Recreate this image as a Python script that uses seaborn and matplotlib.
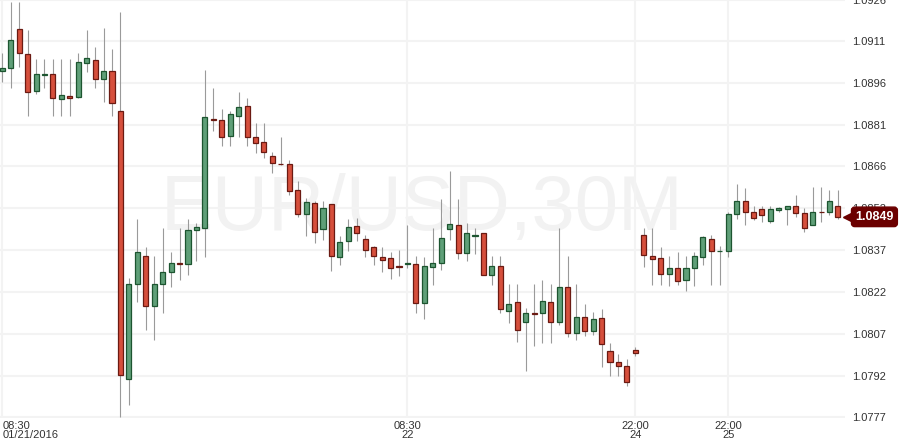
import numpy as np
import pandas as pd
import matplotlib
matplotlib.use('Agg')
import matplotlib.pyplot as plt
import seaborn as sns

# OHLC 数据（从图上读出，EUR/USD 30 分钟）
opens = [1.09007, 1.09018, 1.09157, 1.09068, 1.08936, 1.08993, 1.08996, 1.08907, 1.08918, 1.08914,
         1.09035, 1.09046, 1.08978, 1.09007, 1.08864, 1.07909, 1.08248, 1.08348, 1.08169, 1.08248,
         1.08291, 1.08323, 1.08319, 1.08440, 1.08447, 1.08836, 1.08832, 1.08775, 1.08847, 1.08882,
         1.08772, 1.08754, 1.08704, 1.08677, 1.08676, 1.08583, 1.08497, 1.08537, 1.08444, 1.08533,
         1.08344, 1.08401, 1.08455, 1.08408, 1.08380, 1.08344, 1.08341, 1.08310, 1.08319, 1.08319,
         1.08180, 1.08308, 1.08323, 1.08444, 1.08458, 1.08358, 1.08417, 1.08430, 1.08280, 1.08312,
         1.08152, 1.08184, 1.08112, 1.08143, 1.08145, 1.08184, 1.08112, 1.08237, 1.08073, 1.08130,
         1.08080, 1.08127, 1.08009, 1.07970, 1.07956, 1.08013, 1.08423, 1.08348, 1.08341, 1.08284,
         1.08305, 1.08262, 1.08305, 1.08344, 1.08408, 1.08364, 1.08365, 1.08497, 1.08544, 1.08504,
         1.08515, 1.08472, 1.08513, 1.08515, 1.08526, 1.08501, 1.08458, 1.08506, 1.08504, 1.08526]
highs = [1.09071, 1.09253, 1.09253, 1.09153, 1.09050, 1.09050, 1.09050, 1.09050, 1.09050, 1.09071,
         1.09153, 1.09092, 1.09160, 1.09085, 1.09217, 1.08269, 1.08480, 1.08380, 1.08348, 1.08447,
         1.08362, 1.08447, 1.08480, 1.08465, 1.09011, 1.08946, 1.08872, 1.08864, 1.08932, 1.08911,
         1.08822, 1.08822, 1.08718, 1.08772, 1.08690, 1.08615, 1.08554, 1.08544, 1.08544, 1.08533,
         1.08419, 1.08480, 1.08483, 1.08423, 1.08383, 1.08380, 1.08362, 1.08369, 1.08458, 1.08348,
         1.08344, 1.08447, 1.08551, 1.08651, 1.08551, 1.08465, 1.08447, 1.08430, 1.08348, 1.08348,
         1.08248, 1.08248, 1.08162, 1.08248, 1.08262, 1.08248, 1.08447, 1.08348, 1.08248, 1.08177,
         1.08148, 1.08159, 1.08038, 1.07998, 1.07981, 1.08023, 1.08447, 1.08447, 1.08380, 1.08348,
         1.08362, 1.08348, 1.08362, 1.08419, 1.08423, 1.08383, 1.08504, 1.08604, 1.08590, 1.08526,
         1.08526, 1.08526, 1.08522, 1.08526, 1.08565, 1.08519, 1.08593, 1.08593, 1.08583, 1.08583]
lows = [1.08968, 1.08946, 1.09021, 1.08847, 1.08925, 1.08946, 1.08847, 1.08847, 1.08847, 1.08911,
        1.09003, 1.08946, 1.08896, 1.08847, 1.07774, 1.07817, 1.08184, 1.08084, 1.08048, 1.08145,
        1.08237, 1.08262, 1.08280, 1.08330, 1.08344, 1.08793, 1.08740, 1.08740, 1.08772, 1.08740,
        1.08715, 1.08697, 1.08643, 1.08672, 1.08565, 1.08487, 1.08419, 1.08394, 1.08405, 1.08294,
        1.08316, 1.08365, 1.08401, 1.08344, 1.08316, 1.08291, 1.08266, 1.08276, 1.08305, 1.08145,
        1.08123, 1.08244, 1.08298, 1.08405, 1.08337, 1.08330, 1.08355, 1.08280, 1.08244, 1.08145,
        1.08109, 1.08041, 1.07938, 1.08027, 1.08038, 1.08038, 1.08102, 1.08059, 1.08048, 1.08063,
        1.08066, 1.07952, 1.07920, 1.07920, 1.07884, 1.07991, 1.08308, 1.08244, 1.08244, 1.08241,
        1.08244, 1.08223, 1.08241, 1.08316, 1.08244, 1.08244, 1.08344, 1.08480, 1.08458, 1.08476,
        1.08469, 1.08465, 1.08504, 1.08458, 1.08487, 1.08433, 1.08458, 1.08469, 1.08494, 1.08480]
closes = [1.09018, 1.09117, 1.09071, 1.08932, 1.08996, 1.08996, 1.08911, 1.08921, 1.08911, 1.09039,
          1.09053, 1.08978, 1.09007, 1.08893, 1.07924, 1.08248, 1.08362, 1.08169, 1.08248, 1.08291,
          1.08323, 1.08319, 1.08440, 1.08451, 1.08843, 1.08832, 1.08772, 1.08854, 1.08879, 1.08772,
          1.08750, 1.08718, 1.08679, 1.08674, 1.08579, 1.08497, 1.08540, 1.08433, 1.08519, 1.08348,
          1.08398, 1.08451, 1.08430, 1.08369, 1.08348, 1.08333, 1.08305, 1.08307, 1.08323, 1.08180,
          1.08312, 1.08323, 1.08412, 1.08462, 1.08358, 1.08430, 1.08421, 1.08280, 1.08312, 1.08159,
          1.08177, 1.08084, 1.08145, 1.08139, 1.08187, 1.08112, 1.08237, 1.08073, 1.08130, 1.08080,
          1.08123, 1.08034, 1.07970, 1.07956, 1.07899, 1.08002, 1.08351, 1.08337, 1.08284, 1.08305,
          1.08259, 1.08305, 1.08348, 1.08415, 1.08365, 1.08367, 1.08497, 1.08544, 1.08504, 1.08483,
          1.08494, 1.08515, 1.08517, 1.08526, 1.08501, 1.08447, 1.08504, 1.08503, 1.08544, 1.08487]

# 坐标轴标签
xtick_pos = [0, 48, 75, 86]
xtick_labels = ['08:30\n01/21/2016', '08:30\n22', '22:00\n24', '22:00\n25']
ytick_vals = [1.07774, 1.07920, 1.08070, 1.08219, 1.08370, 1.08519,
              1.08668, 1.08815, 1.08964, 1.09114, 1.09260]
ytick_labels = ['1.0777', '1.0792', '1.0807', '1.0822', '1.0837', '1.0852',
                '1.0866', '1.0881', '1.0896', '1.0911', '1.0926']
title_text = 'EUR/USD,30M'
last_label = '1.0849'

sns.set_theme(style='white')
plt.rcParams['font.family'] = ['Liberation Sans', 'DejaVu Sans']

df = pd.DataFrame({'open': opens, 'high': highs, 'low': lows, 'close': closes})
df['idx'] = np.arange(len(df))
df['up'] = df['close'] >= df['open']
df['bottom'] = df[['open', 'close']].min(axis=1)
df['height'] = (df['close'] - df['open']).abs().clip(lower=0.00003)

green, green_edge = '#5f9f78', '#1d5530'
red, red_edge = '#d64f3c', '#6b1a12'

fig = plt.figure(figsize=(9, 4.48), dpi=100)
ax = fig.add_axes([0, 0.067, 0.939, 0.933])

# 水印
ax.text(0.4994, 0.4976, title_text, transform=ax.transAxes, ha='center', va='center',
        fontsize=56, color='#f2f2f2', zorder=0)

# 影线
ax.vlines(df['idx'], df['low'], df['high'], color='#9a9a9a', lw=0.8, zorder=2)

# 实体
up = df[df['up']]
dn = df[~df['up']]
ax.bar(up['idx'], up['height'], bottom=up['bottom'], width=0.6,
       color=green, edgecolor=green_edge, linewidth=0.9, zorder=3)
ax.bar(dn['idx'], dn['height'], bottom=dn['bottom'], width=0.6,
       color=red, edgecolor=red_edge, linewidth=0.9, zorder=3)

ax.set_xlim(-0.27, 99.85)
ax.set_ylim(1.07770, 1.09260)
ax.grid(True, color='#f3f3f3', lw=1.5, zorder=0)
ax.set_axisbelow(True)
sns.despine(ax=ax, left=True, bottom=True)

ax.yaxis.tick_right()
ax.set_yticks(ytick_vals)
ax.set_yticklabels(ytick_labels)
ax.set_xticks(xtick_pos)
ax.set_xticklabels(xtick_labels, linespacing=0.85)
ax.tick_params(axis='y', length=0, pad=5, labelsize=8, labelcolor='#333333')
ax.tick_params(axis='x', length=0, pad=2, labelsize=8, labelcolor='#333333')
first = ax.get_xticklabels()[0]
first.set_ha('left')
first.set_multialignment('left')

# 最新价标签
last = df['close'].iloc[-1]
trans = ax.get_yaxis_transform()
ax.plot([1.002], [last], marker='<', ms=6, color='#6b0000', transform=trans,
        clip_on=False, zorder=5)
ax.text(1.012, last, last_label, transform=trans, ha='left', va='center',
        fontsize=9, fontweight='bold', color='white', zorder=6,
        bbox=dict(boxstyle='round,pad=0.3,rounding_size=0.25', fc='#6b0000', ec='#6b0000'))

fig.savefig('out.png', dpi=100)
